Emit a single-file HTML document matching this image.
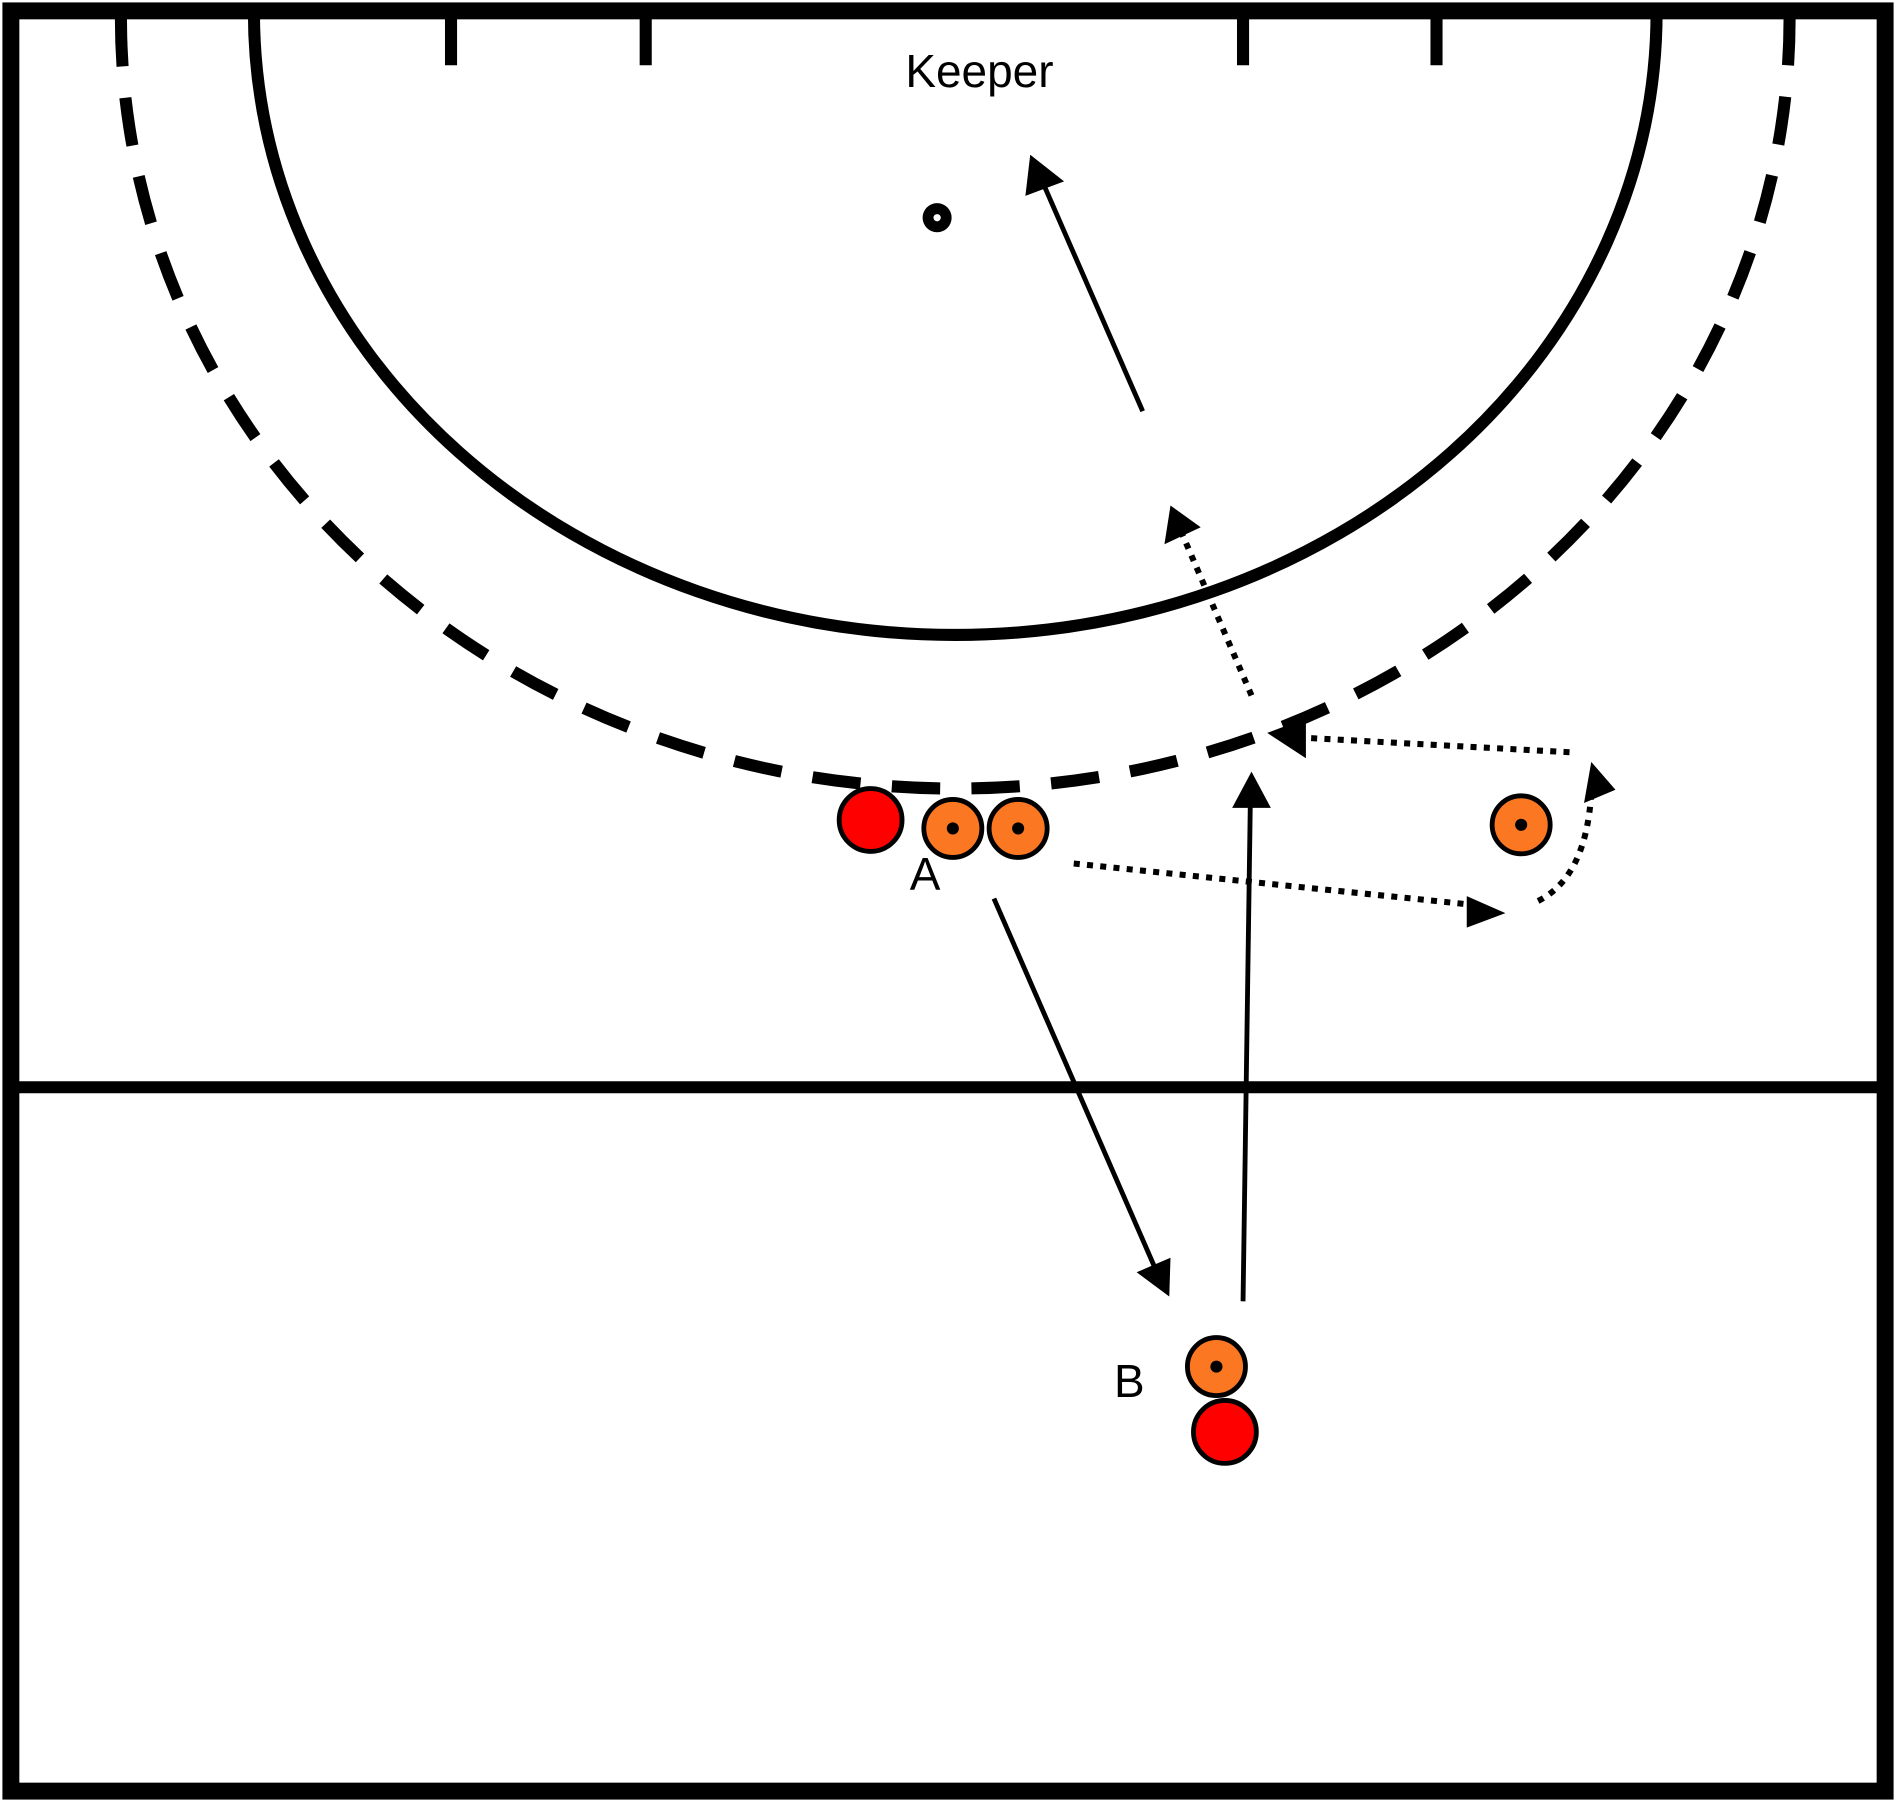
<!DOCTYPE html>
<html><head><style>html,body{margin:0;padding:0;background:#fff}svg{display:block}</style></head>
<body>
<svg width="1896" height="1802" viewBox="0 0 1568 1490" preserveAspectRatio="none" xmlns="http://www.w3.org/2000/svg">
<defs>
<marker id="ah" markerWidth="10" markerHeight="10" refX="2" refY="5" orient="auto" markerUnits="userSpaceOnUse" viewBox="0 0 10 10">
</marker>
</defs>
<rect x="0" y="0" width="1568" height="1490" fill="#fff"/>
<rect x="9" y="9" width="1550" height="1472" fill="none" stroke="#000" stroke-width="14"/>
<line x1="9" y1="899" x2="1559" y2="899" stroke="#000" stroke-width="10"/>
<path d="M210 10 A580 515 0 0 0 1370 10" fill="none" stroke="#000" stroke-width="10"/>
<path d="M100 15 A690 637 0 0 0 1480 15" fill="none" stroke="#000" stroke-width="10" stroke-dasharray="40 26"/>
<g stroke="#000" stroke-width="10">
<line x1="373" y1="10" x2="373" y2="54"/><line x1="534" y1="10" x2="534" y2="54"/>
<line x1="1028" y1="10" x2="1028" y2="54"/><line x1="1188" y1="10" x2="1188" y2="54"/>
</g>
<text x="810" y="72" font-family="Liberation Sans, sans-serif" font-size="38" text-anchor="middle">Keeper</text>
<circle cx="775" cy="180" r="12" fill="#000"/><circle cx="775" cy="180" r="3" fill="#fff"/>
<!-- solid arrows -->
<g stroke="#000" stroke-width="4" fill="none">
<line x1="945" y1="340" x2="862" y2="150"/>
<line x1="822" y1="743" x2="955" y2="1048"/>
<line x1="1028" y1="1076" x2="1034" y2="665"/>
</g>
<g stroke="#000" stroke-width="5" fill="none" stroke-dasharray="5 6">
<line x1="1035" y1="575" x2="977" y2="440"/>
<line x1="1298" y1="622" x2="1078" y2="610"/>
<line x1="888" y1="714" x2="1216" y2="748"/>
<path d="M1272 745 Q1312 725 1316 655"/>
</g>
<g fill="#000">
<polygon points="852,128 880,150 848,162"/>
<polygon points="967,1072 968,1040 940,1052"/>
<polygon points="1035,638 1051,668 1019,668"/>
<polygon points="968,418 993,436 963,450"/>
<polygon points="1048,606 1080,594 1080,627"/>
<polygon points="1245,755 1213,741 1213,767"/>
<polygon points="1336,653 1316,630 1310,664"/>
</g>
<g stroke="#000" stroke-width="4">
<circle cx="720" cy="678" r="26" fill="#ff0000"/>
<circle cx="1013" cy="1184" r="26" fill="#ff0000"/>
<circle cx="788" cy="685" r="24" fill="#fc7722"/>
<circle cx="842" cy="685" r="24" fill="#fc7722"/>
<circle cx="1258" cy="682" r="24" fill="#fc7722"/>
<circle cx="1006" cy="1130" r="24" fill="#fc7722"/>
</g>
<g fill="#000">
<circle cx="788" cy="685" r="5"/><circle cx="842" cy="685" r="5"/>
<circle cx="1258" cy="682" r="5"/><circle cx="1006" cy="1130" r="5"/>
</g>
<text x="765" y="736" font-family="Liberation Sans, sans-serif" font-size="38" text-anchor="middle">A</text>
<text x="934" y="1155" font-family="Liberation Sans, sans-serif" font-size="38" text-anchor="middle">B</text>
</svg>
</body></html>
